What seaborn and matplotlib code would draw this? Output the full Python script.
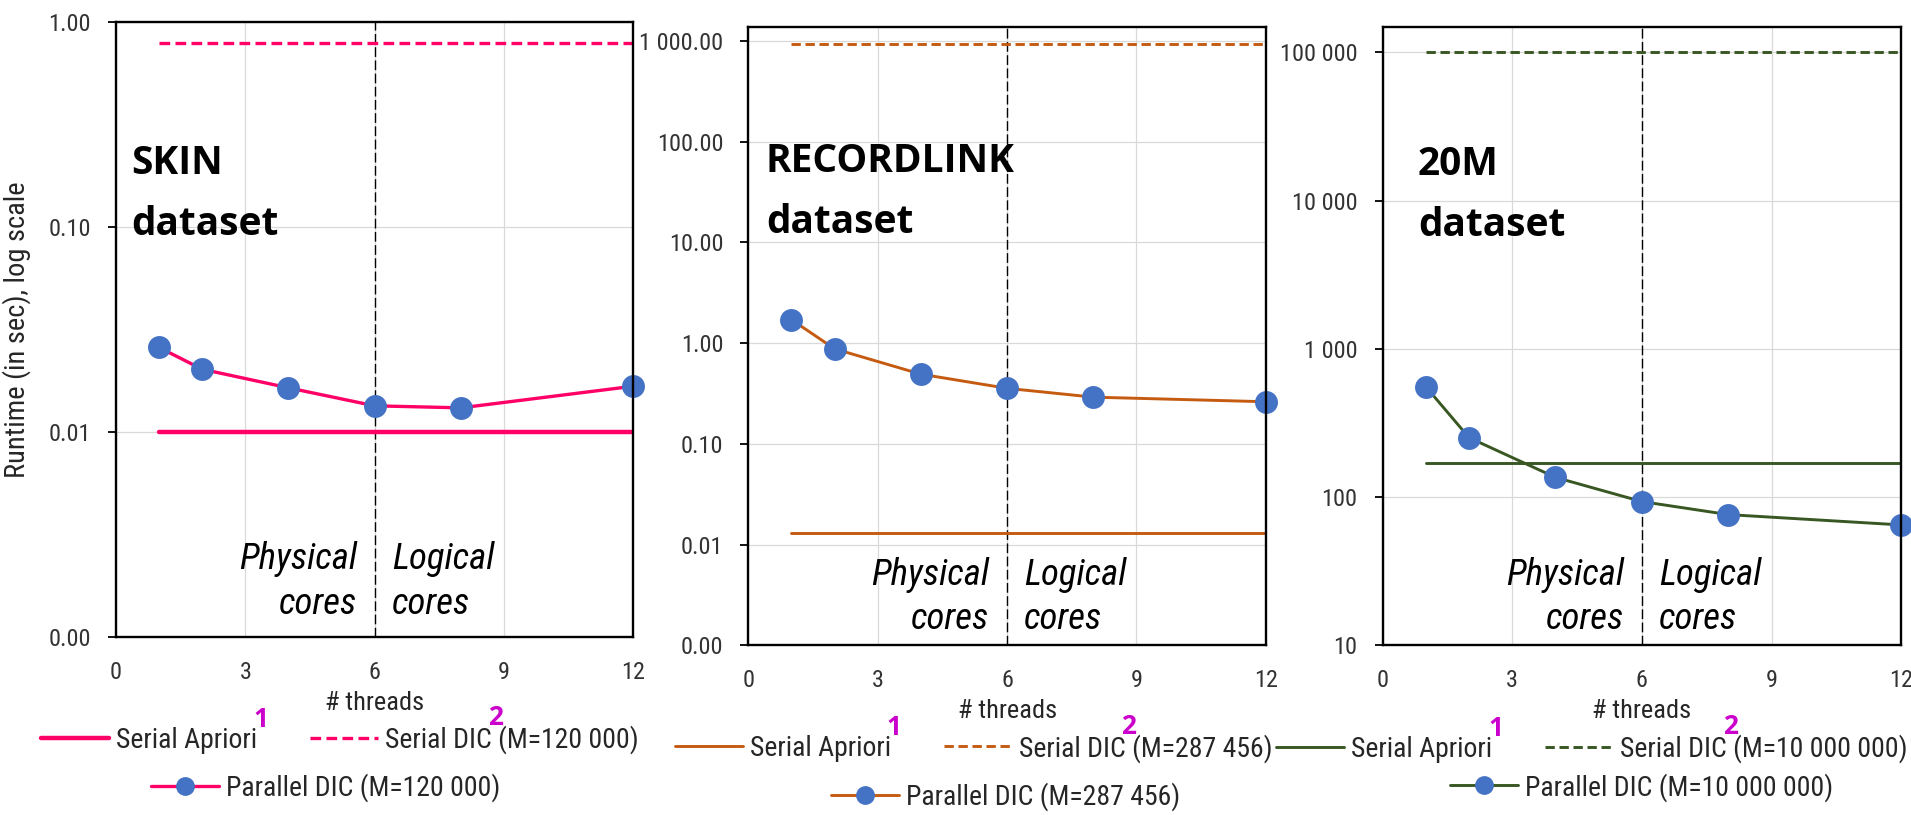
import matplotlib
matplotlib.use("Agg")
import matplotlib.pyplot as plt
import matplotlib.transforms as mtransforms
from matplotlib import font_manager
import seaborn as sns

# 数据
threads = [1, 2, 4, 6, 8, 12]

skin_parallel = [0.0258, 0.0202, 0.0164, 0.0134, 0.0131, 0.0167]
skin_serial_apriori = 0.0100
skin_serial_dic = 0.785

recordlink_parallel = [1.71, 0.877, 0.492, 0.356, 0.291, 0.262]
recordlink_serial_apriori = 0.0132
recordlink_serial_dic = 927

m20_parallel = [556, 252, 136, 93.4, 76.3, 65.0]
m20_serial_apriori = 169
m20_serial_dic = 100000

dataset_names = ["SKIN", "RECORDLINK", "20M"]
m_values = ["120 000", "287 456", "10 000 000"]
x_ticks = [0, 3, 6, 9, 12]
y_ticks_1 = [0.001, 0.01, 0.1, 1]
y_ticks_2 = [0.001, 0.01, 0.1, 1, 10, 100, 1000]
y_ticks_3 = [10, 100, 1000, 10000, 100000]

sns.set_style("white")
available = {f.name for f in font_manager.fontManager.ttflist}
body_font = "Liberation Sans"
k = 0.85
for name in ["Roboto Condensed", "Liberation Sans Narrow"]:
    if name in available:
        body_font = name
        k = 1.0
        break
plt.rcParams['font.family'] = [body_font, 'DejaVu Sans']

fig = plt.figure(figsize=(19.11, 8.15), dpi=100)
ax = []
ax.append(fig.add_axes([0.0607, 0.2184, 0.2707, 0.7550]))
ax.append(fig.add_axes([0.3916, 0.2080, 0.2708, 0.7593]))
ax.append(fig.add_axes([0.7235, 0.2080, 0.2714, 0.7593]))

panels = [
    dict(par=skin_parallel, apr=skin_serial_apriori, dic=skin_serial_dic, ticks=y_ticks_1,
         ylim=(0.001, 1.0), fmt="{:,.2f}", color="#FF0066", lw=2.4, lw_apr=3.2,
         name_x=0.030, name_y=0.653, cores_y=0.025,
         leg1=(0.433, -0.167), leg2=(0.406, -0.245)),
    dict(par=recordlink_parallel, apr=recordlink_serial_apriori, dic=recordlink_serial_dic, ticks=y_ticks_2,
         ylim=(0.001, 1380), fmt="{:,.2f}", color="#C55A11", lw=2.1, lw_apr=2.1,
         name_x=0.034, name_y=0.667, cores_y=0.013,
         leg1=(0.435, -0.166), leg2=(0.497, -0.245)),
    dict(par=m20_parallel, apr=m20_serial_apriori, dic=m20_serial_dic, ticks=y_ticks_3,
         ylim=(10, 1.49e5), fmt="{:,.0f}", color="#385723", lw=2.1, lw_apr=2.1,
         name_x=0.068, name_y=0.662, cores_y=0.013,
         leg1=(0.404, -0.167), leg2=(0.500, -0.229)),
]

legends = []
for i in range(0, 3):
    p = panels[i]
    a = ax[i]
    c = p["color"]
    xs = [threads[0], threads[-1]]

    sns.lineplot(x=xs, y=[p["apr"], p["apr"]], ax=a, color=c, lw=p["lw_apr"])
    apr_line = a.lines[-1]
    sns.lineplot(x=xs, y=[p["dic"], p["dic"]], ax=a, color=c, lw=p["lw"])
    dic_line = a.lines[-1]
    dic_line.set_dashes((3.2, 1.6))
    sns.lineplot(x=threads, y=p["par"], ax=a, color=c, lw=p["lw"], marker="o",
                 markersize=16.5, markerfacecolor="#4472C4", markeredgewidth=0)
    par_line = a.lines[-1]
    par_line.set_clip_on(False)

    a.axvline(6, color="black", lw=1.0, dashes=(7, 2.5), zorder=1)

    a.set_yscale("log")
    a.set_xlim(0, 12)
    a.set_ylim(*p["ylim"])
    a.set_xticks(x_ticks)
    a.set_xticklabels([str(t) for t in x_ticks])
    a.set_yticks(p["ticks"])
    a.set_yticklabels([p["fmt"].format(t).replace(",", " ") for t in p["ticks"]])
    a.minorticks_off()
    a.grid(True, color="#D9D9D9", lw=0.9)
    a.set_axisbelow(True)
    for s in a.spines.values():
        s.set_visible(True)
        s.set_color("black")
        s.set_linewidth(1.7)
    a.tick_params(axis="x", length=0, pad=17, labelsize=17.5 * k, labelcolor="#333333")
    a.tick_params(axis="y", length=6, width=1.3, color="black", pad=12,
                  labelsize=17.5 * k, labelcolor="#333333", left=True)

    a.set_xlabel("# threads", fontsize=19 * k, color="#262626")
    a.xaxis.set_label_coords(0.5, -0.087)

    a.text(p["name_x"], p["name_y"], dataset_names[i] + "\ndataset", transform=a.transAxes,
           family="Open Sans", fontweight="bold", fontsize=28, color="black",
           va="baseline", ha="left", linespacing=1.73)

    trans = mtransforms.blended_transform_factory(a.transData, a.transAxes)
    a.annotate("Physical\ncores", xy=(6, p["cores_y"]), xycoords=trans,
               xytext=(-18, 0), textcoords="offset pixels", ha="right", va="bottom",
               fontsize=26.5 * k, style="italic", color="black", linespacing=1.3)
    a.annotate("Logical\ncores", xy=(6, p["cores_y"]), xycoords=trans,
               xytext=(17, 0), textcoords="offset pixels", ha="left", va="bottom",
               fontsize=26.5 * k, style="italic", color="black", linespacing=1.3)

    leg1 = a.legend(handles=[apr_line, dic_line],
                    labels=["Serial Apriori", "Serial DIC (M=" + m_values[i] + ")"],
                    ncol=2, loc="center", bbox_to_anchor=p["leg1"], frameon=False,
                    fontsize=20 * k, handlelength=2.45, handletextpad=0.25,
                    columnspacing=1.9, borderpad=0, borderaxespad=0)
    for t in leg1.get_texts():
        t.set_color("#262626")
    a.add_artist(leg1)
    leg2 = a.legend(handles=[par_line], labels=["Parallel DIC (M=" + m_values[i] + ")"],
                    loc="center", bbox_to_anchor=p["leg2"], frameon=False,
                    fontsize=20 * k, handlelength=2.45, handletextpad=0.25,
                    markerscale=0.82, borderpad=0, borderaxespad=0)
    for t in leg2.get_texts():
        t.set_color("#262626")
    legends.append(leg1)

ax[0].set_ylabel("Runtime (in sec), log scale", fontsize=20.5 * k, color="#262626")
ax[0].yaxis.set_label_coords(-0.165, 0.5)

# 上标 1 和 2
fig.canvas.draw()
renderer = fig.canvas.get_renderer()
W, H = fig.bbox.width, fig.bbox.height
for leg in legends:
    t1, t2 = leg.get_texts()
    b1 = t1.get_window_extent(renderer)
    b2 = t2.get_window_extent(renderer)
    tmp = fig.text(0, 0, "Serial DIC", fontsize=t2.get_fontsize(), family=t2.get_fontfamily())
    w_dic = tmp.get_window_extent(renderer).width
    tmp.remove()
    fig.text((b1.x1 - 4) / W, b1.y1 / H, "1", family="Open Sans", fontweight="bold",
             fontsize=19, color="#CC00CC", ha="left", va="baseline")
    fig.text((b2.x0 + w_dic - 4) / W, b2.y1 / H, "2", family="Open Sans", fontweight="bold",
             fontsize=19, color="#CC00CC", ha="left", va="baseline")

fig.savefig("out.png", dpi=100)
